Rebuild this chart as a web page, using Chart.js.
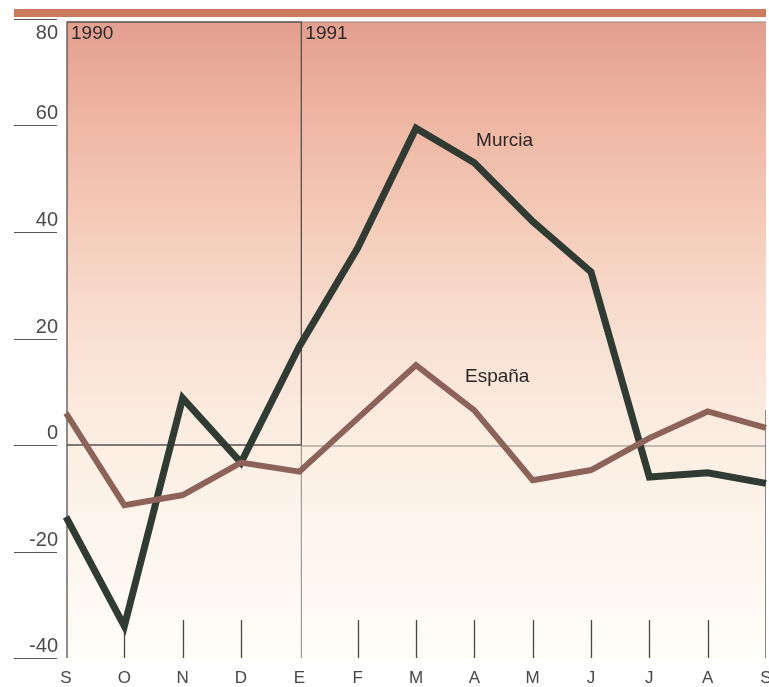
<!DOCTYPE html>
<html>
<head>
<meta charset="utf-8">
<script src="https://cdn.jsdelivr.net/npm/chart.js@4/dist/chart.umd.min.js"></script>
<style>
  html, body { margin: 0; padding: 0; background: #ffffff; }
  #wrap { width: 769px; height: 687px; }
</style>
</head>
<body>
<div id="wrap"><canvas id="chart" width="769" height="687"></canvas></div>
<script>
// Months from September 1990 to September 1991
const months = ['S', 'O', 'N', 'D', 'E', 'F', 'M', 'A', 'M', 'J', 'J', 'A', 'S'];
const murcia = [-13.5, -34, 8.8, -3.3, 18.5, 37, 59.5, 53, 42, 32.5, -6, -5.2, -7.2];
const espana = [6, -11.3, -9.4, -3.3, -5, 5, 15, 6.5, -6.6, -4.7, 1.3, 6.3, 3.2];
const yTicks = [80, 60, 40, 20, 0, -20, -40];
const years = [{ label: '1990', index: 0 }, { label: '1991', index: 4 }];
const seriesNames = ['Murcia', 'España'];

const FONT = '"Liberation Sans", Arial, sans-serif';

const decor = {
  id: 'decor',
  beforeDatasetsDraw(chart) {
    const { ctx, chartArea: a, scales: { x, y } } = chart;
    const top = a.top + 3;
    const zeroY = y.getPixelForValue(0);
    const janX = x.getPixelForValue(4) + 2;
    ctx.save();

    // warm band along the top
    ctx.fillStyle = '#c97c5d';
    ctx.fillRect(14, 9, a.right - 14, 8);

    // background wash, salmon fading to cream
    const g = ctx.createLinearGradient(0, top, 0, a.bottom);
    g.addColorStop(0, '#e49f8d');
    g.addColorStop(0.15, '#eeb6a2');
    g.addColorStop(0.3, '#f4c9b6');
    g.addColorStop(0.45, '#f8dccd');
    g.addColorStop(0.62, '#fbebdf');
    g.addColorStop(0.8, '#fdf5ec');
    g.addColorStop(1, '#fffdf8');
    ctx.fillStyle = g;
    ctx.fillRect(a.left + 1, top, a.right - a.left - 1, a.bottom - top);

    // zero line across the whole plot
    ctx.strokeStyle = '#8a8580';
    ctx.lineWidth = 1.2;
    ctx.beginPath();
    ctx.moveTo(janX, zeroY + 1);
    ctx.lineTo(a.right, zeroY + 1);
    ctx.stroke();

    // 1990 box
    ctx.strokeStyle = '#555050';
    ctx.lineWidth = 1.3;
    ctx.beginPath();
    ctx.moveTo(a.left + 1, a.bottom);
    ctx.lineTo(a.left + 1, top);
    ctx.lineTo(janX, top);
    ctx.lineTo(janX, zeroY);
    ctx.lineTo(a.left + 1, zeroY);
    ctx.stroke();

    // 1991 box top and the January divider below zero
    ctx.strokeStyle = '#8d8784';
    ctx.lineWidth = 1;
    ctx.beginPath();
    ctx.moveTo(janX, top);
    ctx.lineTo(a.right, top);
    ctx.moveTo(janX, zeroY);
    ctx.lineTo(janX, a.bottom);
    ctx.moveTo(a.right - 0.5, zeroY - 35);
    ctx.lineTo(a.right - 0.5, a.bottom);
    ctx.stroke();

    // month tick marks along the bottom
    ctx.strokeStyle = '#4a4646';
    ctx.lineWidth = 1.3;
    ctx.beginPath();
    months.forEach((m, i) => {
      if (i === 0 || i === 4 || i === months.length - 1) return;
      const px = Math.round(x.getPixelForValue(i)) + 0.5;
      ctx.moveTo(px, a.bottom - 38);
      ctx.lineTo(px, a.bottom);
    });
    ctx.stroke();

    // month letters
    ctx.fillStyle = '#4a4646';
    ctx.font = '17px ' + FONT;
    ctx.textAlign = 'center';
    ctx.textBaseline = 'middle';
    months.forEach((m, i) => {
      ctx.fillText(m, x.getPixelForValue(i), a.bottom + 20);
    });

    // y ticks: rule with the value sitting on it
    ctx.font = '20px ' + FONT;
    ctx.textAlign = 'right';
    yTicks.forEach(v => {
      const py = Math.round(y.getPixelForValue(v)) + 0.5;
      ctx.strokeStyle = '#555';
      ctx.lineWidth = 1.2;
      ctx.beginPath();
      ctx.moveTo(14, py);
      ctx.lineTo(57, py);
      ctx.stroke();
      ctx.fillStyle = '#4d4a4a';
      const ly = v === 80 ? py + 14 : py - 12;
      ctx.fillText(String(v), 58, ly);
    });

    // year captions
    ctx.font = '19px ' + FONT;
    ctx.fillStyle = '#2c2a2a';
    ctx.textAlign = 'left';
    years.forEach(yr => {
      ctx.fillText(yr.label, x.getPixelForValue(yr.index) + (yr.index ? 6 : 5), top + 12);
    });
    ctx.restore();
  },
  afterDatasetsDraw(chart) {
    const { ctx, scales: { x, y } } = chart;
    ctx.save();
    ctx.fillStyle = '#2a2626';
    ctx.font = '19px ' + FONT;
    ctx.textAlign = 'left';
    ctx.textBaseline = 'middle';
    ctx.fillText(seriesNames[0], x.getPixelForValue(7.03), y.getPixelForValue(57.2));
    ctx.fillText(seriesNames[1], x.getPixelForValue(6.84), y.getPixelForValue(12.9));
    ctx.restore();
  }
};

new Chart(document.getElementById('chart'), {
  type: 'line',
  data: {
    labels: months,
    datasets: [
      {
        label: seriesNames[1],
        data: espana,
        borderColor: '#8c6259',
        borderWidth: 6,
        pointRadius: 0,
        tension: 0,
        borderJoinStyle: 'miter',
        borderCapStyle: 'butt'
      },
      {
        label: seriesNames[0],
        data: murcia,
        borderColor: '#2f3b33',
        borderWidth: 7,
        pointRadius: 0,
        tension: 0,
        borderJoinStyle: 'miter',
        borderCapStyle: 'butt'
      }
    ]
  },
  options: {
    responsive: false,
    animation: false,
    devicePixelRatio: 1,
    layout: { padding: { left: 66, right: 3, top: 19, bottom: 29 } },
    plugins: { legend: { display: false }, tooltip: { enabled: false } },
    scales: {
      x: { type: 'category', display: false, offset: false },
      y: { type: 'linear', display: false, min: -40, max: 80 }
    }
  },
  plugins: [decor]
});
</script>
</body>
</html>
